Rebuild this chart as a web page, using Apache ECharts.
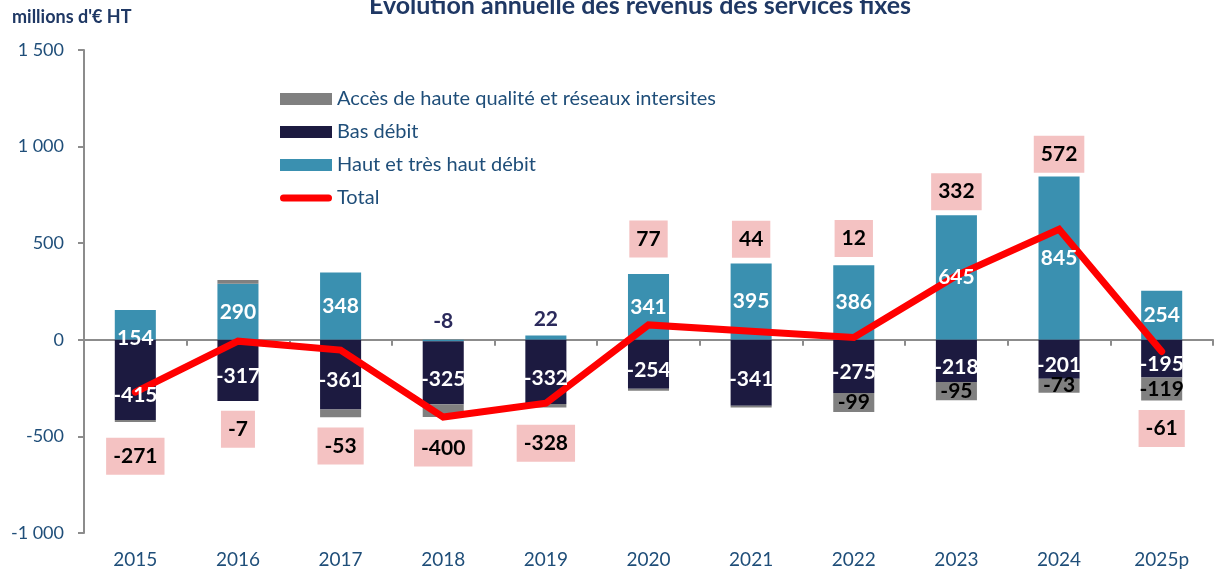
<!DOCTYPE html>
<html>
<head>
<meta charset="utf-8">
<script src="https://cdn.jsdelivr.net/npm/echarts@6/dist/echarts.min.js"></script>
<style>
  html, body { margin: 0; padding: 0; background: #fff; }
  #Chart1 { width: 1217px; height: 573px; }
</style>
</head>
<body>
<div id="Chart1"></div>
<script>
const years = ["2015", "2016", "2017", "2018", "2019", "2020", "2021", "2022", "2023", "2024", "2025p"];
const hautDebit = [154, 290, 348, -8, 22, 341, 395, 386, 645, 845, 254];
const basDebit = [-415, -317, -361, -325, -332, -254, -341, -275, -218, -201, -195];
const accesHQ = [-10, 20, -40, -67, -18, -10, -10, -99, -95, -73, -119];
const total = [-271, -7, -53, -400, -328, 77, 44, 12, 332, 572, -61];
const yTicks = [1500, 1000, 500, 0, -500, -1000];

// label placement of the pink total boxes (above / below the point, px)
const totalLabelSide = ["bottom", "bottom", "bottom", "bottom", "bottom", "top", "top", "top", "top", "top", "bottom"];
const totalLabelDist = [45, 69, 77, 12, 21, 67, 73, 80, 65, 56, 58];

const FONT = "Lato";
const BLUE_TXT = "#1f4e79";
const NAMES = {
  acces: "Accès de haute qualité et réseaux intersites",
  bas: "Bas débit",
  haut: "Haut et très haut débit",
  total: "Total"
};

const myChart = echarts.init(document.getElementById("Chart1"));

function fmt(v) {
  const s = Math.abs(v).toString().replace(/\B(?=(\d{3})+(?!\d))/g, " ");
  return (v < 0 ? "-" : "") + s;
}

const whiteLabel = {
  show: true,
  position: "inside",
  color: "#fff",
  fontFamily: FONT,
  fontWeight: "bold",
  fontSize: 21
};

// label-carrying data (drawn by transparent bars above the red line)
const hautLabelData = hautDebit.map((v, i) => {
  if (Math.abs(v) < 50) {
    return {
      value: v,
      label: {
        show: true,
        position: "top",
        distance: v < 0 ? 8 : 6,
        color: "#2b2a5c",
        fontFamily: FONT,
        fontWeight: "bold",
        fontSize: 21
      }
    };
  }
  return i === 0 ? { value: v, label: { offset: [0, 13] } } : { value: v };
});

const basLabelData = basDebit.map((v, i) => ({ value: v, label: { offset: [0, i === 0 ? 15 : 6] } }));

const accesLabelData = accesHQ.map((v, i) => ({ value: v, label: { show: i >= 7 } }));

const totalData = total.map((v, i) => ({
  value: v,
  label: { position: totalLabelSide[i], distance: totalLabelDist[i] }
}));

function barSeries(name, data, color) {
  return {
    name: name,
    type: "bar",
    stack: "rev",
    barCategoryGap: "60%",
    barGap: "-100%",
    itemStyle: { color: color },
    label: { show: false },
    data: data
  };
}

function labelSeries(name, data, label) {
  return {
    name: name + " (étiquettes)",
    type: "bar",
    stack: "lbl",
    z: 4,
    silent: true,
    barCategoryGap: "60%",
    barGap: "-100%",
    itemStyle: { color: "rgba(0,0,0,0)" },
    label: label,
    data: data
  };
}

const option = {
  animation: false,
  textStyle: { fontFamily: FONT },
  title: {
    text: "Évolution annuelle des revenus des services fixes",
    left: 635,
    textAlign: "center",
    top: -12,
    textStyle: { color: "#1f3864", fontSize: 25, fontWeight: "bold", fontFamily: FONT }
  },
  graphic: [
    {
      type: "text",
      left: 12,
      top: 8,
      style: { text: "millions d'€ HT", fill: "#1f3864", font: "bold 18px " + FONT }
    }
  ],
  legend: {
    orient: "vertical",
    left: 275,
    top: 84,
    itemWidth: 52,
    itemHeight: 12,
    itemGap: 13,
    textStyle: { color: BLUE_TXT, fontSize: 20, fontFamily: FONT },
    data: [
      { name: NAMES.acces, icon: "rect" },
      { name: NAMES.bas, icon: "rect" },
      { name: NAMES.haut, icon: "rect" },
      { name: NAMES.total, icon: "path://M3.5,0 L48.5,0 A3.5,3.5 0 0 1 48.5,7 L3.5,7 A3.5,3.5 0 0 1 3.5,0 Z" }
    ]
  },
  grid: { left: 84, right: 4, top: 50, bottom: 40, containLabel: false },
  xAxis: [
    {
      type: "category",
      data: years,
      position: "bottom",
      axisLine: { show: false, onZero: false },
      axisTick: { show: false },
      axisLabel: { color: BLUE_TXT, fontSize: 19, fontFamily: FONT, margin: 17 }
    },
    {
      type: "category",
      data: years,
      position: "bottom",
      axisLine: { show: true, onZero: true, lineStyle: { color: "#8c8c8c", width: 2 } },
      axisTick: { show: true, length: 6, lineStyle: { color: "#8c8c8c", width: 2 } },
      axisLabel: { show: false }
    }
  ],
  yAxis: {
    type: "value",
    min: -1000,
    max: 1500,
    interval: 500,
    axisLine: { show: true, lineStyle: { color: "#8c8c8c", width: 2 } },
    axisTick: { show: true, length: 6, lineStyle: { color: "#8c8c8c", width: 2 } },
    splitLine: { show: false },
    axisLabel: {
      color: BLUE_TXT,
      fontSize: 18,
      fontFamily: FONT,
      margin: 20,
      formatter: (v) => (yTicks.includes(v) ? fmt(v) : "")
    }
  },
  series: [
    barSeries(NAMES.haut, hautDebit, "#3a90b0"),
    barSeries(NAMES.bas, basDebit, "#1c1a40"),
    barSeries(NAMES.acces, accesHQ, "#808080"),
    {
      name: NAMES.total,
      type: "line",
      z: 3,
      symbol: "circle",
      symbolSize: 1,
      showSymbol: true,
      lineStyle: { color: "#ff0000", width: 7, cap: "round", join: "miter" },
      itemStyle: { color: "#ff0000" },
      label: {
        show: true,
        color: "#000",
        fontFamily: FONT,
        fontWeight: "bold",
        fontSize: 21,
        backgroundColor: "#f4c2c2",
        padding: [8, 7, 8, 7]
      },
      data: totalData
    },
    labelSeries(NAMES.haut, hautLabelData, whiteLabel),
    labelSeries(NAMES.bas, basLabelData, whiteLabel),
    labelSeries(NAMES.acces, accesLabelData, {
      position: "inside",
      color: "#000",
      fontFamily: FONT,
      fontWeight: "bold",
      fontSize: 21
    })
  ]
};

myChart.setOption(option);
</script>
</body>
</html>
